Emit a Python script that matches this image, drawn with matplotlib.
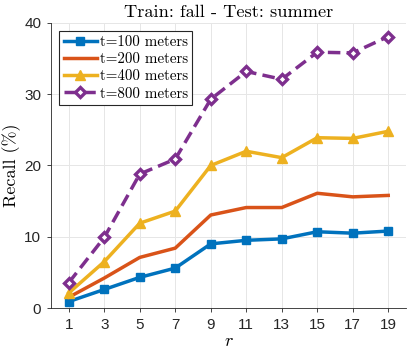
import matplotlib
matplotlib.use("Agg")
import matplotlib.pyplot as plt

radius = [1, 3, 5, 7, 9, 11, 13, 15, 17, 19]
recall_100 = [0.9, 2.6, 4.3, 5.6, 9.0, 9.5, 9.7, 10.7, 10.5, 10.8]
recall_200 = [1.5, 4.2, 7.1, 8.4, 13.05, 14.1, 14.1, 16.1, 15.6, 15.8]
recall_400 = [2.1, 6.5, 11.9, 13.6, 20.0, 22.0, 21.1, 23.9, 23.8, 24.8]
recall_800 = [3.55, 9.9, 18.8, 20.9, 29.3, 33.2, 32.1, 35.9, 35.8, 38.1]
labels = ["t=100 meters", "t=200 meters", "t=400 meters", "t=800 meters"]
y_ticks = [0, 10, 20, 30, 40]

plt.rcParams["mathtext.fontset"] = "cm"
plt.rcParams["font.family"] = ["Liberation Sans", "DejaVu Sans"]

figure = plt.figure(figsize=(4.07, 3.52), dpi=100)
axis = figure.add_axes([0.1253, 0.125, 0.8722, 0.8097])

axis.plot(radius, recall_100, color="#0072BD", linewidth=2.5, marker="s",
          markersize=6, label=labels[0], zorder=3)
axis.plot(radius, recall_200, color="#D95319", linewidth=2.5, label=labels[1], zorder=3)
axis.plot(radius, recall_400, color="#EDB120", linewidth=2.5, marker="^",
          markersize=7.5, label=labels[2], zorder=3)
axis.plot(radius, recall_800, color="#7E2F8E", linewidth=2.5, linestyle=(0, (3.6, 1.8)),
          marker="D", markersize=5.2, markerfacecolor="white", markeredgewidth=2.4,
          label=labels[3], zorder=3)

axis.set_xlim(0, 20)
axis.set_ylim(0, 40)
axis.set_xticks(radius)
axis.set_yticks(y_ticks)
axis.tick_params(labelsize=11, colors="#262626", length=3, width=0.6, pad=4)
axis.grid(True, color="#e6e6e6", linewidth=0.7)
axis.set_axisbelow(True)
for side in ["top", "right"]:
    axis.spines[side].set_visible(False)
for side in ["left", "bottom"]:
    axis.spines[side].set_color("#262626")
    axis.spines[side].set_linewidth(0.6)

axis.set_title("Train: fall - Test: summer", family="cmr10", fontsize=13.2, pad=4)
axis.set_ylabel("Recall (%)", family="cmr10", fontsize=13, labelpad=2)
axis.set_xlabel("$r$", fontsize=13, labelpad=1)

legend = axis.legend(loc="upper left", prop={"family": "cmr10", "size": 10.8},
                     handlelength=2.2, handletextpad=0.2, borderpad=0.3,
                     labelspacing=0.22, fancybox=False, framealpha=1,
                     borderaxespad=0.55)
legend.get_frame().set_edgecolor("#262626")
legend.get_frame().set_linewidth(0.8)

figure.savefig("out.png", dpi=100)
